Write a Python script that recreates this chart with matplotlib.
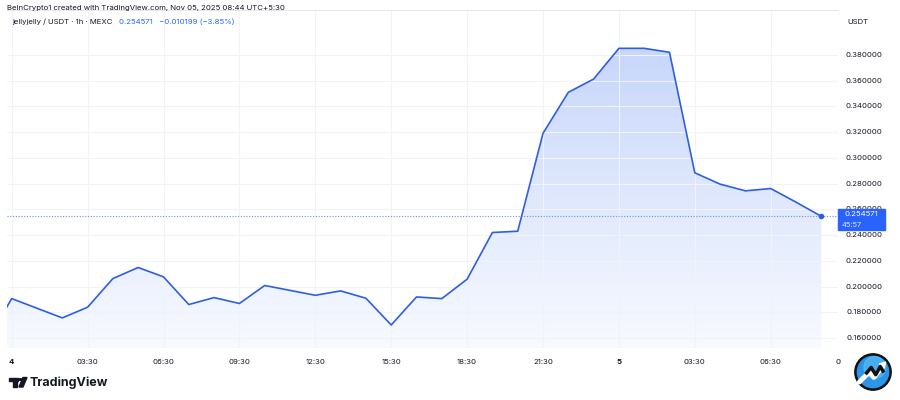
import matplotlib.pyplot as plt
import matplotlib.transforms as mtrans
import numpy as np
from matplotlib.patches import Rectangle, Circle, Polygon
from matplotlib.transforms import Bbox, TransformedBbox

plt.rcParams['font.family'] = ['Inter', 'DejaVu Sans']

# hourly closes, jellyjelly / USDT (hour 0 = Nov 4 00:00, first value is the hour before)
hours = np.arange(-1, 33)
closes = [0.1570, 0.1906, 0.1831, 0.1756, 0.1839, 0.2062, 0.2148, 0.2075,
          0.1860, 0.1914, 0.1868, 0.2008, 0.1970, 0.1932, 0.1966, 0.1909,
          0.1701, 0.1919, 0.1906, 0.2057, 0.2420, 0.2430, 0.3191, 0.3510,
          0.3613, 0.3852, 0.3852, 0.3821, 0.2884, 0.2796, 0.2744, 0.2762,
          0.2656, 0.254571]
last_price = 0.254571
tick_hours = [0, 3, 6, 9, 12, 15, 18, 21, 24, 27, 30]
tick_labels = ['4', '03:30', '06:30', '09:30', '12:30', '15:30', '18:30',
               '21:30', '5', '03:30', '06:30']
price_ticks = np.arange(0.16, 0.381, 0.02)

line_col = '#2f5fe0'
text_col = '#131722'
grid_col = '#f0f3fa'

fig = plt.figure(figsize=(9, 4), dpi=100)
ax = fig.add_axes([7 / 900, 52 / 400, 831 / 900, 338 / 400])

xmin, xmax = -0.186, 32.66
ymin, ymax = 0.1522, 0.415
ax.set_xlim(xmin, xmax)
ax.set_ylim(ymin, ymax)

# gradient area under the line
poly = ax.fill_between(hours, closes, ymin, color='none', lw=0)
top = np.array([0.78, 0.84, 0.98])
bot = np.array([0.97, 0.98, 1.0])
cols = bot[None, :] + (top - bot)[None, :] * np.linspace(0, 1, 256)[:, None]
cols = cols[:, None, :]
im = ax.imshow(cols, extent=[xmin, xmax, ymin, 0.386], origin='lower',
               aspect='auto', zorder=1, interpolation='bilinear')
im.set_clip_path(poly.get_paths()[0], transform=ax.transData)

ax.plot(hours, closes, color=line_col, lw=1.2, zorder=3, solid_joinstyle='round')
ax.plot(hours[-1], closes[-1], 'o', color=line_col, ms=3, zorder=4)
ax.axhline(last_price, color='#6f8fe8', lw=0.8, ls=(0, (1, 1.5)), zorder=2)

ax.set_xticks(tick_hours)
ax.set_xticklabels([])
ax.set_yticks(price_ticks)
ax.set_yticklabels([])
ax.tick_params(length=0)
ax.grid(True, color=grid_col, lw=0.8, zorder=0)
for s in ['left', 'bottom', 'right']:
    ax.spines[s].set_visible(False)
ax.spines['top'].set_color('#e0e3eb')
ax.spines['top'].set_linewidth(0.6)

# time axis labels
for h, lab in zip(tick_hours, tick_labels):
    bold = lab in ('4', '5')
    ax.text(h, -0.04, lab, transform=ax.get_xaxis_transform(), ha='center',
            va='center', fontsize=5.6, color=text_col,
            fontweight='bold' if bold else 'normal')
cut = ax.text(33, -0.04, '09:30', transform=ax.get_xaxis_transform(), ha='center',
              va='center', fontsize=5.6, color=text_col, clip_on=True)
cut.set_clip_box(TransformedBbox(Bbox([[0, 0], [841 / 900, 1]]), fig.transFigure))

# price axis labels
btr = mtrans.blended_transform_factory(fig.transFigure, ax.transData)
for p in price_ticks:
    ax.text(864 / 900, p, f'{p:.6f}', transform=btr, ha='center', va='center',
            fontsize=5.6, color=text_col)

# last price tag
fig.patches.append(Rectangle((838 / 900, 170 / 400), 47 / 900, 21 / 400,
                             transform=fig.transFigure, color='#2962ff',
                             zorder=5))
fig.text(861 / 900, 186 / 400, f'{last_price:.6f}', ha='center', va='center',
         fontsize=5.6, color='white', zorder=6)
fig.text(842 / 900, 175 / 400, '45:57', ha='left', va='center',
         fontsize=5.4, color='#dfe6ff', zorder=6)

# header
fig.text(7 / 900, 392 / 400, 'BeInCrypto1 created with TradingView.com, Nov 05, 2025 08:44 UTC+5:30',
         ha='left', va='center', fontsize=5.6, color=text_col)
fig.text(12 / 900, 378 / 400, 'jellyjelly / USDT · 1h · MEXC', ha='left',
         va='center', fontsize=5.6, color=text_col)
fig.text(119 / 900, 378 / 400, '0.254571   −0.010199 (−3.85%)', ha='left',
         va='center', fontsize=5.6, color='#2962ff')
fig.text(858 / 900, 378 / 400, 'USDT', ha='center', va='center', fontsize=5.6,
         color=text_col)

# TradingView logo
fig.patches.append(Rectangle((9 / 900, 19.5 / 400), 9 / 900, 3 / 400,
                             transform=fig.transFigure, color=text_col))
fig.patches.append(Rectangle((13 / 900, 13 / 400), 4 / 900, 8 / 400,
                             transform=fig.transFigure, color=text_col))
fig.patches.append(Circle((20.5 / 900, 20.5 / 400), 1.8 / 900,
                          transform=fig.transFigure, color=text_col))
fig.patches.append(Polygon([(19 / 900, 13 / 400), (23 / 900, 13 / 400),
                            (27 / 900, 22.5 / 400), (23 / 900, 22.5 / 400)],
                           closed=True, transform=fig.transFigure, color=text_col))
fig.text(30 / 900, 17.5 / 400, 'TradingView', ha='left', va='center',
         fontsize=9, fontweight='bold', color=text_col)

# round badge bottom right
lax = fig.add_axes([853 / 900, 8 / 400, 40 / 900, 40 / 400])
lax.set_xlim(-1.1, 1.1)
lax.set_ylim(-1.1, 1.1)
lax.set_aspect('equal')
lax.axis('off')
lax.add_patch(Circle((0, 0), 1.0, color='#111111'))
lax.add_patch(Circle((0, 0), 0.86, color='#2c95e8'))
lax.add_patch(Circle((0.1, 0.25), 0.6, color='#5cc0f5', alpha=0.6))
lax.plot([-0.75, -0.2, 0.05, 0.55], [-0.55, 0.0, -0.3, 0.35], color='white',
         lw=3.5, solid_capstyle='round')
lax.plot([-0.35, -0.1, 0.15, 0.4, 0.55], [-0.05, 0.25, -0.15, 0.3, 0.05],
         color='#111111', lw=2.5)
lax.add_patch(Polygon([[0.35, 0.45], [0.7, 0.55], [0.6, 0.2]], color='white'))

fig.savefig('out.png', dpi=100)
